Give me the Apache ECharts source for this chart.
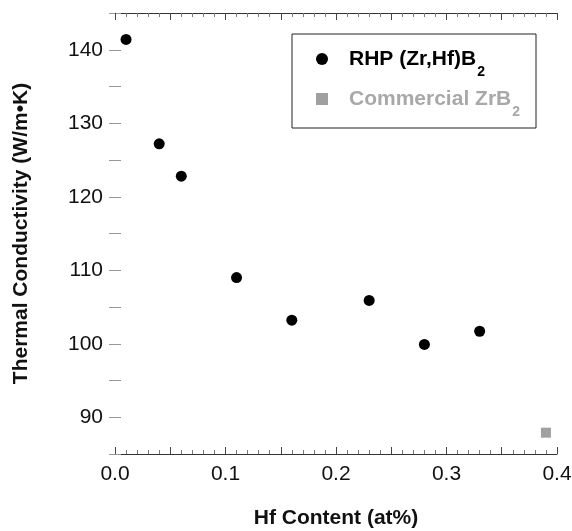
<!DOCTYPE html>
<html>
<head>
<meta charset="utf-8">
<script src="https://cdn.jsdelivr.net/npm/echarts@6/dist/echarts.min.js"></script>
<style>
html,body{margin:0;padding:0;background:#fff;}
#chart{width:572px;height:531px;}
</style>
</head>
<body>
<div id="chart"></div>
<script>
const rhpHf = [0.01, 0.04, 0.06, 0.11, 0.16, 0.23, 0.28, 0.33];
const rhpK = [141.4, 127.2, 122.8, 109.0, 103.2, 105.9, 99.9, 101.7];
const comHf = [0.39];
const comK = [87.9];
const xTitle = 'Hf Content (at%)';
const yTitle = 'Thermal Conductivity (W/m\u2022K)';
const seriesNames = ['RHP (Zr,Hf)B2', 'Commercial ZrB2'];

const FONT = "'Liberation Sans', Arial, sans-serif";
const chart = echarts.init(document.getElementById('chart'));

function xLabel(v) {
  const t = v * 10;
  return Math.abs(t - Math.round(t)) < 1e-6 ? v.toFixed(1) : '';
}
function yLabel(v) {
  return Math.abs(v % 10) < 1e-6 ? String(v) : '';
}
const xCommon = {
  type: 'value', min: 0, max: 0.4, interval: 0.05,
  axisLine: { show: true, lineStyle: { color: '#333', width: 1 } },
  axisTick: { show: true, inside: true, length: 7, lineStyle: { color: '#444' } },
  minorTick: { show: true, splitNumber: 5, length: 4, lineStyle: { color: '#777' } },
  splitLine: { show: false }, minorSplitLine: { show: false }
};
const yCommon = {
  type: 'value', min: 85, max: 145, interval: 5,
  axisLine: { show: false },
  axisTick: { show: true, inside: true, length: 6, lineStyle: { color: '#999' } },
  splitLine: { show: false }
};

chart.setOption({
  animation: false,
  backgroundColor: '#fff',
  textStyle: { fontFamily: FONT },
  grid: { left: 115, right: 15, top: 13, bottom: 77, containLabel: false, outerBoundsMode: 'none' },
  legend: {
    orient: 'vertical', left: 292, top: 34,
    padding: [5, 16, 9, 24],
    itemGap: 0, itemWidth: 12, itemHeight: 12,
    borderColor: '#222', borderWidth: 1, backgroundColor: '#fff',
    selectedMode: false,
    data: [
      { name: seriesNames[0], icon: 'circle' },
      { name: seriesNames[1], icon: 'rect' }
    ],
    formatter: function (name) {
      if (name === seriesNames[0]) return '{a|RHP (Zr,Hf)B}{as|2}';
      return '{b|Commercial ZrB}{bs|2}';
    },
    textStyle: {
      fontFamily: FONT,
      rich: {
        a: { fontSize: 21, fontWeight: 'bold', color: '#000', padding: [0, 0, 0, 16], fontFamily: FONT },
        as: { fontSize: 14, fontWeight: 'bold', color: '#000', padding: [26, 0, 0, 1], lineHeight: 14, fontFamily: FONT },
        b: { fontSize: 21, fontWeight: 'bold', color: '#a8a8a8', padding: [0, 0, 0, 16], fontFamily: FONT },
        bs: { fontSize: 14, fontWeight: 'bold', color: '#a8a8a8', padding: [26, 0, 0, 1], lineHeight: 14, fontFamily: FONT }
      }
    }
  },
  xAxis: [
    Object.assign({}, xCommon, {
      position: 'bottom',
      axisLabel: { formatter: xLabel, fontSize: 21, color: '#111', margin: 10, fontFamily: FONT },
      name: xTitle, nameLocation: 'middle', nameGap: 54,
      nameTextStyle: { fontSize: 21, fontWeight: 'bold', color: '#111', fontFamily: FONT }
    }),
    Object.assign({}, xCommon, {
      position: 'top',
      axisLabel: { show: false }
    })
  ],
  yAxis: [
    Object.assign({}, yCommon, {
      position: 'left',
      axisLabel: { formatter: yLabel, fontSize: 21, color: '#111', margin: 12, fontFamily: FONT },
      name: yTitle, nameLocation: 'middle', nameGap: 83,
      nameTextStyle: { fontSize: 21, fontWeight: 'bold', color: '#111', fontFamily: FONT }
    }),
    Object.assign({}, yCommon, {
      position: 'right',
      axisLabel: { show: false }
    })
  ],
  series: [
    {
      name: seriesNames[0], type: 'scatter', xAxisIndex: 0, yAxisIndex: 0,
      symbol: 'circle', symbolSize: 11,
      itemStyle: { color: '#000', opacity: 1 },
      data: rhpHf.map((x, i) => [x, rhpK[i]])
    },
    {
      name: seriesNames[1], type: 'scatter', xAxisIndex: 0, yAxisIndex: 0,
      symbol: 'rect', symbolSize: 10,
      itemStyle: { color: '#a0a0a0', opacity: 1 },
      data: comHf.map((x, i) => [x, comK[i]])
    }
  ]
});
</script>
</body>
</html>
